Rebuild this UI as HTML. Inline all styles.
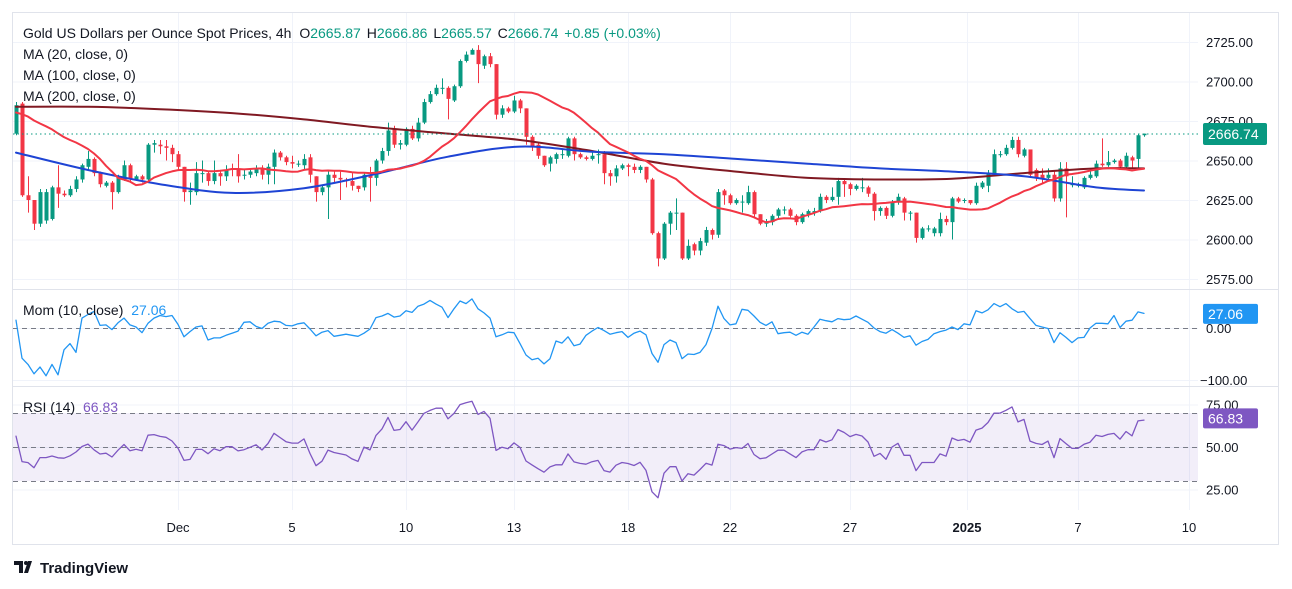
<!DOCTYPE html>
<html><head><meta charset="utf-8"><style>
html,body{margin:0;padding:0;background:#fff;width:1292px;height:589px;overflow:hidden}
svg{display:block;font-family:"Liberation Sans",Arial,sans-serif}
</style></head><body>
<svg id="c" width="1292" height="589" viewBox="0 0 1292 589" xmlns="http://www.w3.org/2000/svg">
<defs>
<clipPath id="cpMain"><rect x="13" y="13" width="1185" height="276"/></clipPath>
<clipPath id="cpMom"><rect x="13" y="290" width="1185" height="96"/></clipPath>
<clipPath id="cpRsi"><rect x="13" y="387" width="1185" height="123"/></clipPath>
</defs>
<rect x="12.5" y="12.5" width="1266" height="532" fill="#fff" stroke="#e0e3eb"/>
<g id="grid"></g>
<line x1="13" y1="289.5" x2="1278" y2="289.5" stroke="#e0e3eb"/>
<line x1="13" y1="386.5" x2="1278" y2="386.5" stroke="#e0e3eb"/>
<rect x="13" y="413" width="1185" height="68" fill="rgba(126,87,194,0.1)"/>
<g stroke="#787b86" stroke-dasharray="5,4" stroke-width="1">
<line x1="13" y1="328.5" x2="1198" y2="328.5"/>
<line x1="13" y1="413.5" x2="1198" y2="413.5"/>
<line x1="13" y1="447.5" x2="1198" y2="447.5"/>
<line x1="13" y1="481.5" x2="1198" y2="481.5"/>
</g>
<g id="main" clip-path="url(#cpMain)"></g>
<g id="mom" clip-path="url(#cpMom)"></g>
<g id="rsi" clip-path="url(#cpRsi)"></g>
<g id="axes"></g>
<g font-size="14" fill="#131722">
<text x="23" y="38">Gold US Dollars per Ounce Spot Prices, 4h <tspan dx="4">O</tspan><tspan fill="#089981">2665.87</tspan> <tspan dx="2">H</tspan><tspan fill="#089981">2666.86</tspan> <tspan dx="2">L</tspan><tspan fill="#089981">2665.57</tspan> <tspan dx="2">C</tspan><tspan fill="#089981">2666.74</tspan> <tspan dx="2" fill="#089981">+0.85 (+0.03%)</tspan></text>
<text x="23" y="59">MA (20, close, 0)</text>
<text x="23" y="80">MA (100, close, 0)</text>
<text x="23" y="101">MA (200, close, 0)</text>
<text x="23" y="315">Mom (10, close) <tspan dx="4" fill="#2196f3">27.06</tspan></text>
<text x="23" y="412">RSI (14) <tspan dx="4" fill="#7e57c2">66.83</tspan></text>
</g>
<g>
<path d="M14 561h9v12h-4v-8h-5z M24 573l4-12h4l-4 12z" fill="#131722"/>
<circle cx="26" cy="563" r="2" fill="#131722"/>
<text x="40" y="573" font-size="15" font-weight="bold" fill="#131722">TradingView</text>
</g>
</svg>
<script>
const opens=[2667,2686,2628,2625,2610,2612,2613,2633,2629,2628,2632,2638,2646,2651,2642,2634,2636,2630,2638,2647,2638,2640,2638,2660,2660,2659,2658,2654,2646,2630,2630,2642,2642,2637,2642,2640,2645,2644,2641,2641,2642,2645,2641,2646,2655,2652,2649,2648,2647,2652,
2640,2630,2633,2641,2639,2638,2637,2634,2633,2641,2639,2650,2656,2670,2660,2660,2670,2664,2674,2687,2692,2696,2696,2688,2697,2713,2717,2720,2710,2716,2711,2679,2683,2681,2688,2683,2665,2660,2653,2648,2651,2654,2653,2664,2654,2652,2651,2654,2654,
2642,2640,2645,2647,2646,2644,2646,2638,2604,2588,2610,2617,2617,2588,2597,2593,2598,2606,2603,2631,2628,2623,2624,2623,2630,2616,2610,2611,2615,2619,2619,2615,2611,2616,2617,2618,2627,2625,2627,2637,2635,2632,2633,2633,2629,2618,2620,2615,
2624,2626,2617,2617,2601,2607,2604,2604,2613,2611,2626,2625,2625,2623,2633,2634,2641,2654,2654,2658,2663,2653,2657,2644,2641,2639,2641,2626,2645,2635,2634,2633,2639,2640,2648,2647,2649,2650,2646,2652,2651,2666];
const highs=[2687,2687,2640,2625,2632,2632,2634,2647,2631,2634,2640,2648,2656,2652,2643,2637,2637,2641,2650,2648,2641,2641,2661,2663,2663,2663,2660,2656,2646,2636,2649,2650,2643,2650,2643,2647,2648,2654,2644,2645,2647,2647,2648,2657,2656,2653,2653,2650,2654,2654,
2640,2634,2643,2644,2643,2639,2642,2634,2642,2646,2651,2658,2674,2672,2663,2671,2672,2677,2689,2694,2698,2702,2697,2698,2714,2719,2721,2723,2717,2718,2711,2685,2684,2691,2689,2683,2666,2661,2653,2653,2655,2657,2665,2665,2655,2653,2656,2657,
2656,2644,2647,2648,2648,2648,2647,2646,2639,2605,2611,2618,2626,2617,2600,2598,2601,2608,2607,2632,2632,2629,2626,2628,2634,2631,2616,2613,2616,2620,2621,2620,2616,2617,2619,2620,2629,2628,2633,2639,2638,2636,2635,2639,2634,2630,2621,2621,2625,
2629,2627,2618,2617,2608,2609,2608,2617,2615,2627,2627,2626,2625,2636,2637,2644,2657,2656,2660,2665,2665,2658,2657,2645,2645,2645,2643,2649,2649,2640,2636,2640,2643,2650,2664,2656,2651,2651,2655,2653,2667,2667];
const lows=[2666,2627,2617,2606,2608,2610,2612,2620,2627,2627,2630,2636,2644,2640,2633,2633,2619,2629,2637,2636,2637,2636,2636,2655,2654,2650,2649,2644,2624,2622,2628,2636,2634,2635,2634,2637,2640,2636,2638,2639,2640,2638,2635,2635,2650,2647,2645,2646,2644,2636,
2624,2628,2613,2636,2625,2633,2631,2630,2631,2624,2634,2648,2653,2658,2657,2659,2663,2662,2673,2686,2691,2692,2676,2687,2696,2712,2717,2699,2708,2709,2676,2677,2680,2680,2680,2660,2656,2651,2646,2643,2648,2651,2652,2650,2651,2650,2650,2648,
2635,2634,2636,2644,2640,2642,2642,2636,2603,2583,2587,2603,2606,2587,2587,2590,2590,2596,2600,2601,2622,2622,2622,2617,2622,2614,2609,2608,2609,2613,2616,2614,2609,2610,2614,2615,2617,2623,2624,2622,2627,2628,2631,2630,2627,2612,2615,2613,2614,
2622,2612,2612,2598,2600,2605,2602,2602,2609,2600,2623,2623,2622,2622,2632,2630,2640,2652,2653,2657,2652,2652,2639,2637,2636,2637,2624,2624,2614,2633,2633,2632,2638,2639,2646,2646,2648,2645,2645,2645,2645,2665];
const closes=[2685,2628,2625,2610,2630,2630,2633,2629,2628,2632,2638,2647,2651,2642,2635,2636,2630,2639,2647,2638,2640,2638,2660,2661,2659,2658,2654,2646,2630,2631,2642,2642,2637,2642,2640,2644,2644,2640,2641,2643,2645,2641,2646,2655,2652,2649,2648,2648,2651,2641,
2630,2633,2641,2639,2638,2637,2634,2632,2641,2639,2650,2656,2669,2660,2661,2670,2664,2674,2687,2692,2696,2696,2689,2697,2713,2717,2720,2711,2716,2711,2679,2683,2681,2688,2683,2665,2659,2653,2647,2652,2654,2654,2664,2654,2652,2651,2653,2654,
2642,2640,2645,2647,2646,2644,2646,2638,2604,2588,2610,2617,2617,2588,2596,2593,2599,2606,2603,2630,2628,2623,2625,2624,2630,2616,2610,2611,2615,2619,2619,2615,2611,2616,2618,2618,2627,2625,2627,2637,2635,2632,2634,2633,2629,2618,2620,2615,2624,
2627,2617,2617,2601,2607,2607,2607,2613,2611,2626,2624,2625,2623,2634,2636,2642,2654,2654,2658,2663,2654,2657,2641,2639,2638,2641,2626,2645,2640,2635,2635,2639,2641,2648,2647,2649,2650,2646,2653,2650,2666,2667];
const priorCloses=[2650,2655,2660,2668,2665,2672,2680,2675,2668,2670,2686,2695,2698,2705,2722,2703,2719,2670,2662];
const maIdx=[0,12,24,36,48,60,72,84,96,108,120,132,144,156,168,180,188];
const ma100=[2655,2644,2635,2629.5,2632.5,2641.5,2652.4,2658.8,2655.5,2654,2651,2648,2645,2643,2640,2633,2631];
const ma200=[2684,2684,2682.5,2680,2676,2671,2667,2663,2656,2648,2643,2639,2638,2638.5,2642,2645,2645];
const priceTicks=[2725,2700,2675,2650,2625,2600,2575];
const momTicks=[0,-100];
const rsiTicks=[75,50,25];
const dateLabels=["Dec","5","10","13","18","22","27","2025","7","10"];
const dateIdx=[27,46,65,83,102,119,139,158.5,177,195.5];

const NS="http://www.w3.org/2000/svg";
const X=i=>16+6*i;
const PY=p=>42+(2725-p)*1.58;
const MY=v=>328-v*0.52;
const RY=v=>447-(v-50)*1.7;
function mk(parent,tag,attrs){const e=document.createElementNS(NS,tag);for(const k in attrs)e.setAttribute(k,attrs[k]);parent.appendChild(e);return e;}
const grid=document.getElementById('grid'),main=document.getElementById('main'),mom=document.getElementById('mom'),rsi=document.getElementById('rsi'),axes=document.getElementById('axes');

priceTicks.forEach(p=>{const l=mk(grid,'line',{x1:13,x2:1198,y1:PY(p)+0.5,y2:PY(p)+0.5,stroke:'#f0f3fa'});

});
momTicks.forEach(v=>{const l=mk(grid,'line',{x1:13,x2:1198,y1:MY(v)+0.5,y2:MY(v)+0.5,stroke:'#f0f3fa'});

});
rsiTicks.forEach(v=>{const l=mk(grid,'line',{x1:13,x2:1198,y1:RY(v)+0.5,y2:RY(v)+0.5,stroke:'#f0f3fa'});

});
dateIdx.forEach(i=>{const x=Math.round(X(i))+0.5;const l=mk(grid,'line',{x1:x,x2:x,y1:13,y2:510,stroke:'#f0f3fa'});

});

closes.forEach((c,i)=>{const o=opens[i],h=highs[i],lo=lows[i];const up=c>=o;const col=up?'#089981':'#f23645';
const g=mk(main,'g',{});


const x=X(i);
mk(g,'line',{x1:x+0.5,x2:x+0.5,y1:PY(h),y2:PY(lo),stroke:col,'stroke-width':1});
const t=PY(Math.max(o,c)),b=PY(Math.min(o,c));
mk(g,'rect',{x:x-1.5,y:t,width:4,height:Math.max(1,b-t),fill:col});});

const all=priorCloses.concat(closes);const P=priorCloses.length;
const ma20=closes.map((c,i)=>{let s=0;for(let k=0;k<20;k++)s+=all[P+i-k];return s/20;});
function line(parent,pts,col,w,name){const p=mk(parent,'polyline',{points:pts.map(q=>q[0].toFixed(1)+','+q[1].toFixed(1)).join(' '),fill:'none',stroke:col,'stroke-width':w,'stroke-linejoin':'round','stroke-linecap':'round'});

}
function smooth(parent,pts,col,w,name){let d='M'+pts[0][0]+','+pts[0][1];
for(let i=0;i<pts.length-1;i++){const p0=pts[Math.max(0,i-1)],p1=pts[i],p2=pts[i+1],p3=pts[Math.min(pts.length-1,i+2)];
const c1=[p1[0]+(p2[0]-p0[0])/6,p1[1]+(p2[1]-p0[1])/6],c2=[p2[0]-(p3[0]-p1[0])/6,p2[1]-(p3[1]-p1[1])/6];
d+=' C'+c1[0].toFixed(1)+','+c1[1].toFixed(1)+' '+c2[0].toFixed(1)+','+c2[1].toFixed(1)+' '+p2[0].toFixed(1)+','+p2[1].toFixed(1);}
const p=mk(parent,'path',{d:d,fill:'none',stroke:col,'stroke-width':w,'stroke-linecap':'round'});

}
smooth(main,maIdx.map((i,k)=>[X(i),PY(ma200[k])]),'#801922',2,'ma200-line');
smooth(main,maIdx.map((i,k)=>[X(i),PY(ma100[k])]),'#1e44d4',2,'ma100-line');
line(main,ma20.map((v,i)=>[X(i),PY(v)]),'#f23645',2,'ma20-line');
const dl=mk(main,'line',{x1:13,x2:1198,y1:PY(2666.74),y2:PY(2666.74),stroke:'#089981','stroke-dasharray':'1.5,3'});



const momV=closes.map((c,i)=>c-all[P+i-10]);
line(mom,momV.map((v,i)=>[X(i),MY(v)]),'#2196f3',1.3,'momentum-line');
let ag=0,al=0;for(let k=1;k<=14;k++){const d=all[k]-all[k-1];if(d>0)ag+=d;else al-=d;}ag/=14;al/=14;
for(let k=15;k<P;k++){const d=all[k]-all[k-1];ag=(ag*13+Math.max(d,0))/14;al=(al*13+Math.max(-d,0))/14;}
const rsiV=closes.map((c,i)=>{const d=all[P+i]-all[P+i-1];ag=(ag*13+Math.max(d,0))/14;al=(al*13+Math.max(-d,0))/14;return al===0?100:100-100/(1+ag/al);});
line(rsi,rsiV.map((v,i)=>[X(i),RY(v)]),'#7e57c2',1.3,'rsi-line');

function txt(x,y,s,attrs,name){const t=mk(axes,'text',Object.assign({x:x,y:y,'font-size':13,fill:'#131722'},attrs||{}));t.textContent=s;

return t;}
priceTicks.forEach(p=>txt(1206,PY(p)+5,p.toFixed(2),{},'price-tick-label'));
txt(1206,MY(0)+5,'0.00',{},'mom-tick-label');
txt(1200,MY(-100)+5,'\u2212100.00',{},'mom-tick-label');
rsiTicks.forEach(v=>txt(1206,RY(v)+5,v.toFixed(2),{},'rsi-tick-label'));
dateLabels.forEach((s,k)=>txt(X(dateIdx[k]),532,s,{'text-anchor':'middle','font-weight':s==='2025'?'bold':'normal'},'date-tick-label'));
function badge(y,h,w,col,s,name){const r=mk(axes,'rect',{x:1203,y:y,width:w,height:h,rx:2,fill:col});


txt(1208,y+h/2+5,s,{fill:'#fff','font-size':14},name+'-text');}
badge(PY(2666.74)-11,22,64,'#089981','2666.74','last-price-badge');
badge(MY(27.06)-10,20,55,'#2196f3','27.06','mom-value-badge');
badge(RY(66.83)-10,20,55,'#7e57c2','66.83','rsi-value-badge');
</script>
</body></html>
